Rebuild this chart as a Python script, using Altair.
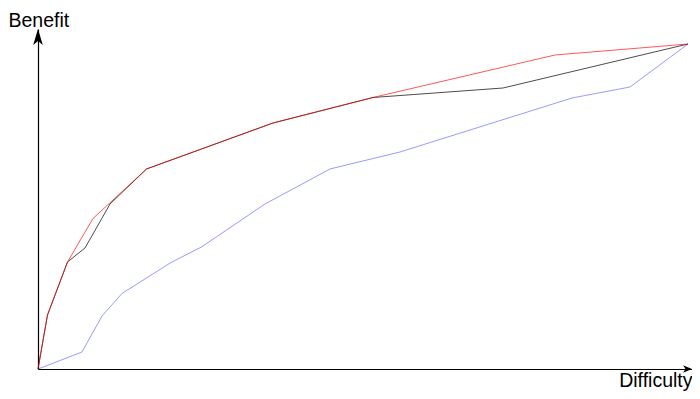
import altair as alt
import pandas as pd

# Values (Difficulty 0-100, Benefit 0-100)
red_x = [0, 1.46, 4.54, 8.46, 16.69, 36.15, 51.54, 79.54, 100]
red_y = [0, 16.62, 32.92, 46.31, 61.54, 75.69, 83.54, 96.62, 100]

black_x = [0, 1.46, 4.54, 7.23, 11.08, 16.69, 36.15, 51.54, 71.54, 100]
black_y = [0, 16.62, 32.92, 37.23, 50.77, 61.54, 75.69, 83.54, 86.46, 100]

blue_x = [0, 6.77, 9.85, 12.92, 20.46, 25.15, 34.92, 44.92, 55.69, 82.15, 91.08, 100]
blue_y = [0, 5.23, 16.31, 23.23, 32.77, 37.54, 50.77, 61.54, 66.77, 83.38, 86.77, 100]

W, H = 654, 340
X_MAX = W / 6.5
Y_MAX = H / 3.25


def frame(xs, ys):
    return pd.DataFrame({"x": xs, "y": ys, "i": list(range(len(xs)))})


xs = alt.Scale(domain=[0, X_MAX], nice=False, zero=True)
ys = alt.Scale(domain=[0, Y_MAX], nice=False, zero=True)

xaxis = alt.Axis(title="Difficulty", ticks=False, labels=False, grid=False,
                 domainColor="black", domainWidth=1.2,
                 titleX=W, titleY=17.5, titleAlign="right",
                 titleBaseline="alphabetic", titleFont="Liberation Sans",
                 titleFontSize=19.5, titleFontWeight="normal", titleColor="black")
yaxis = alt.Axis(title="Benefit", ticks=False, labels=False, grid=False,
                 domainColor="black", domainWidth=1.2,
                 titleX=-30, titleY=-3, titleAngle=0, titleAlign="left",
                 titleBaseline="alphabetic", titleFont="Liberation Sans",
                 titleFontSize=19.5, titleFontWeight="normal", titleColor="black")


def enc():
    return dict(x=alt.X("x:Q", scale=xs, axis=xaxis),
                y=alt.Y("y:Q", scale=ys, axis=yaxis))


def line(xs_, ys_, color, opacity=1.0):
    return alt.Chart(frame(xs_, ys_)).mark_line(
        color=color, strokeWidth=1, opacity=opacity
    ).encode(order="i:Q", **enc())


blue = line(blue_x, blue_y, "#0000ff", 0.4)
black = line(black_x, black_y, "#000000", 0.7)
red = line(red_x, red_y, "#ff0000", 0.65)

up_arrow = alt.Chart(pd.DataFrame({"x": [0.0], "y": [Y_MAX]})).mark_point(
    shape="M0,0 L4.8,16 L0,12 L-4.8,16 Z", size=4, filled=True,
    color="black", opacity=1, strokeWidth=0
).encode(**enc())

right_arrow = alt.Chart(pd.DataFrame({"x": [X_MAX], "y": [0.0]})).mark_point(
    shape="M0,0 L-9,-3.8 L-6.5,0 L-9,3.8 Z", size=4, filled=True,
    color="black", opacity=1, strokeWidth=0
).encode(**enc())

chart = alt.layer(blue, black, red, up_arrow, right_arrow).properties(
    width=W, height=H,
    autosize=alt.AutoSizeParams(type="none"),
    padding={"left": 30, "top": 21, "right": 0, "bottom": 22},
    background="white",
).configure_view(stroke=None)

chart.save("out.html", embed_options={"renderer": "svg", "actions": False})
